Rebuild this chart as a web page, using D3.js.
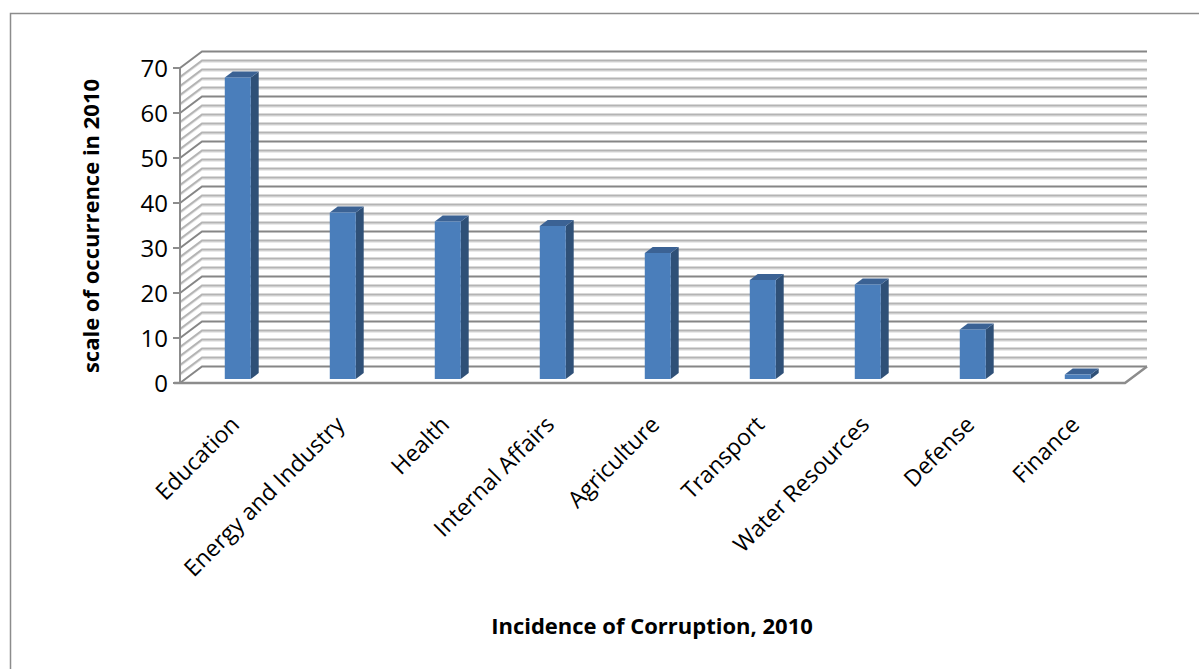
<!DOCTYPE html>
<html><head><meta charset="utf-8">
<script src="https://cdn.jsdelivr.net/npm/d3@7"></script>
<style>body{margin:0;background:#fff}svg{display:block}</style>
</head><body>
<script>
const categories = ["Education","Energy and Industry","Health","Internal Affairs","Agriculture","Transport","Water Resources","Defense","Finance"];
const values = [67,37,35,34,28,22,21,11,1];
const yTicks = [0,10,20,30,40,50,60,70];
const yTitle = "scale of occurrence in 2010";
const xTitle = "Incidence of Corruption, 2010";

const W = 1199, H = 669;
const svg = d3.select("body").append("svg").attr("width", W).attr("height", H);
const font = "'Open Sans', 'Liberation Sans', sans-serif";

// frame
svg.append("path").attr("d", `M10.5,669 L10.5,13.5 L1199,13.5`).attr("fill","none").attr("stroke","#8c8c8c").attr("stroke-width",1.5);

const x0 = 180, x1 = 1125, DX = 22, DY = 16.5;
const y = d3.scaleLinear().domain([0,70]).range([383,68]);
const x = d3.scaleBand().domain(categories).range([x0,x1]);
const P = (px, v, d) => [px + d*DX, y(v) - d*DY];

const g = svg.append("g");
// floor
const fl = [P(x0,0,0),P(x1,0,0),P(x1,0,1),P(x0,0,1)];
g.append("path").attr("d","M"+fl.join("L")+"Z").attr("fill","#fff").attr("stroke","none");

// gridlines (every 2)
const gridVals = d3.range(0,71,2);
gridVals.forEach(v => {
  const major = v % 10 === 0;
  const a = P(x0,v,0), b = P(x0,v,1), c = P(x1,v,1);
  if (!major) {
    g.append("path").attr("d",`M${a[0]},${a[1]+1.5}L${b[0]},${b[1]+1.5}L${c[0]},${c[1]+1.5}`).attr("fill","none").attr("stroke","#e4e4e4").attr("stroke-width",1.5);
  }
  g.append("path").attr("d",`M${a}L${b}L${c}`).attr("fill","none")
    .attr("stroke", major ? "#868686" : "#b4b4b4").attr("stroke-width", 2);
});
// left front edge
g.append("line").attr("x1",x0).attr("x2",x0).attr("y1",y(70)).attr("y2",y(0)).attr("stroke","#8c8c8c").attr("stroke-width",2);
// floor edges
g.append("path").attr("d",`M${P(x0-6,0,0)}L${P(x1,0,0)}L${P(x1,0,1)}`).attr("fill","none").attr("stroke","#8c8c8c").attr("stroke-width",2.5);
// ticks
yTicks.forEach(t => {
  g.append("line").attr("x1",x0-7).attr("x2",x0).attr("y1",y(t)).attr("y2",y(t)).attr("stroke","#8c8c8c").attr("stroke-width",2);
  g.append("text").attr("x",x0-12).attr("y",y(t)).attr("dy","0.36em").attr("text-anchor","end")
    .attr("font-family",font).attr("font-size",24).attr("fill","#000").text(t);
});

// bars
const bw = 26, d0 = 0.24, d1 = 0.60;
categories.forEach((c,i) => {
  const v = values[i];
  const cx = x(c) + x.bandwidth()/2;
  const l = cx - bw/2, r = cx + bw/2;
  const fBL = P(l,0,d0), fBR = P(r,0,d0), fTL = P(l,v,d0), fTR = P(r,v,d0);
  const bBR = P(r,0,d1), bTR = P(r,v,d1), bTL = P(l,v,d1);
  g.append("path").attr("d","M"+[fBR,bBR,bTR,fTR].join("L")+"Z").attr("fill","#2f5077");
  g.append("path").attr("d","M"+[fTL,fTR,bTR,bTL].join("L")+"Z").attr("fill","#3b6294");
  g.append("path").attr("d","M"+[fBL,fBR,fTR,fTL].join("L")+"Z").attr("fill","#4a7ebb");
  const fc = P(cx,0,d0);
  g.append("text").attr("transform",`translate(${fc[0]+3},${426}) rotate(-45)`)
    .attr("text-anchor","end").attr("font-family",font).attr("font-size",23).attr("fill","#000").text(c);
});

svg.append("text").attr("transform",`translate(99,226) rotate(-90)`).attr("text-anchor","middle")
  .attr("font-family",font).attr("font-weight","bold").attr("font-size",22).text(yTitle);
svg.append("text").attr("x",652).attr("y",634).attr("text-anchor","middle")
  .attr("font-family",font).attr("font-weight","bold").attr("font-size",22).text(xTitle);
</script>
</body></html>
